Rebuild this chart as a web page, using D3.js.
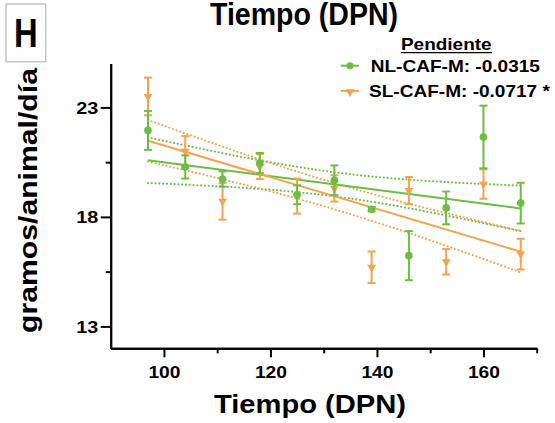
<!DOCTYPE html>
<html>
<head>
<meta charset="utf-8">
<script src="https://cdn.jsdelivr.net/npm/d3@7"></script>
<style>
  body { margin: 0; background: #fff; }
  text { font-family: "Liberation Sans", Arial, sans-serif; font-weight: bold; fill: #000; }
</style>
</head>
<body>
<div id="chart"></div>
<script>
// data (means and SEM per day)
var days = [97, 104, 111, 118, 125, 132, 139, 146, 153, 160, 167];
var nlMean = [21.95, 20.28, 19.73, 20.46, 19.01, 19.67, 18.35, 16.23, 18.41, 21.65, 18.63];
var nlSem  = [0.89, 0.53, 0.35, 0.46, 0.43, 0.68, 0.10, 1.12, 0.75, 1.43, 0.93];
var slMean = [23.50, 20.99, 18.71, 20.30, 18.95, 19.30, 15.70, 19.20, 15.95, 19.50, 16.30];
var slSem  = [0.86, 0.70, 0.84, 0.57, 0.80, 0.60, 0.72, 0.62, 0.58, 0.67, 0.70];
// 95% band half width at the centre and at the ends of the fit
var bandMid = [0.55, 0.60];
var bandEnd = [1.04, 0.95];
var seriesNames = ["NL-CAF-M: -0.0315", "SL-CAF-M: -0.0717 *"];
var colors = ["#6cbd45", "#f7a24c"];
var xMajor = [100, 120, 140, 160];
var xMinor = [110, 130, 150, 170];
var yMajor = [13, 18, 23];
var yMinor = [15.5, 20.5];

var width = 555, height = 423, stretch = 1.13;

var svg = d3.select('#chart')
    .append('svg')
    .attr('width', width)
    .attr('height', height);

var xscale = d3.scaleLinear().domain([90, 170]).range([110.7, 536.7]);
var yscale = d3.scaleLinear().domain([12, 25]).range([348.3, 63.6]);

// widen text a little, the source font runs wider than Liberation Sans
function widen(sel, k) {
    sel.each(function() {
        var w = this.getComputedTextLength();
        d3.select(this).attr('textLength', w * (k || stretch)).attr('lengthAdjust', 'spacingAndGlyphs');
    });
}

// axes
var xAxis = svg.append('g')
    .attr('transform', 'translate(0,348.3)')
    .call(d3.axisBottom(xscale).tickValues(xMajor).tickSize(9).tickSizeOuter(0).tickPadding(8.5));
svg.append('g')
    .attr('transform', 'translate(0,348.3)')
    .call(d3.axisBottom(xscale).tickValues(xMinor).tickSize(5).tickSizeOuter(0).tickFormat(''));
var yAxis = svg.append('g')
    .attr('transform', 'translate(110.7,0)')
    .call(d3.axisLeft(yscale).tickValues(yMajor).tickSize(10).tickSizeOuter(0).tickPadding(2.5));
svg.append('g')
    .attr('transform', 'translate(110.7,0)')
    .call(d3.axisLeft(yscale).tickValues(yMinor).tickSize(5).tickSizeOuter(0).tickFormat(''));

svg.selectAll('.domain, .tick line').attr('stroke', '#000').attr('stroke-width', 2);
svg.selectAll('.tick text')
    .style('font-family', '"Liberation Sans", Arial, sans-serif')
    .style('font-weight', 'bold')
    .attr('fill', '#000');
xAxis.selectAll('.tick text').style('font-size', '17px').call(widen);
yAxis.selectAll('.tick text').style('font-size', '16.5px').attr('dy', '0.36em').call(widen, 1.2);

// regression from the means, then band and points
function fit(ys) {
    var mx = d3.mean(days), my = d3.mean(ys);
    var sxy = d3.sum(days, function(d, i) { return (d - mx) * (ys[i] - my); });
    var sxx = d3.sum(days, function(d) { return (d - mx) * (d - mx); });
    var b = sxy / sxx;
    return { mx: mx, a: my - b * mx, b: b, half: (days[days.length - 1] - days[0]) / 2 };
}

var series = [
    { mean: nlMean, sem: nlSem, color: colors[0], shape: 'circle' },
    { mean: slMean, sem: slSem, color: colors[1], shape: 'tri' }
];

var line = d3.line().x(function(d) { return xscale(d[0]); }).y(function(d) { return yscale(d[1]); });
var xs = d3.range(days[0], days[days.length - 1] + 0.5, 1);

series.forEach(function(s, i) {
    var f = fit(s.mean);
    function hw(x) {
        var t = (x - f.mx) / f.half;
        return Math.sqrt(bandMid[i] * bandMid[i] + (bandEnd[i] * bandEnd[i] - bandMid[i] * bandMid[i]) * t * t);
    }
    [1, -1].forEach(function(sign) {
        svg.append('path')
            .datum(xs.map(function(x) { return [x, f.a + f.b * x + sign * hw(x)]; }))
            .attr('d', line)
            .attr('fill', 'none')
            .attr('stroke', s.color)
            .attr('stroke-width', 2.2)
            .attr('stroke-linecap', 'round')
            .attr('stroke-dasharray', '0,3.8');
    });
    s.fitLine = [[days[0], f.a + f.b * days[0]], [days[days.length - 1], f.a + f.b * days[days.length - 1]]];
});

series.forEach(function(s) {
    svg.append('path')
        .datum(s.fitLine)
        .attr('d', line)
        .attr('fill', 'none')
        .attr('stroke', s.color)
        .attr('stroke-width', 2);
});

var tri = d3.symbol().type(d3.symbolTriangle).size(34);

// orange under green
[series[1], series[0]].forEach(function(s) {
    var g = svg.append('g');
    var pts = days.map(function(d, i) { return { x: d, m: s.mean[i], e: s.sem[i] }; });
    var eb = g.selectAll('g.eb').data(pts).enter().append('g')
        .attr('stroke', s.color).attr('stroke-width', 2);
    eb.append('line')
        .attr('x1', function(d) { return xscale(d.x); })
        .attr('x2', function(d) { return xscale(d.x); })
        .attr('y1', function(d) { return yscale(d.m + d.e); })
        .attr('y2', function(d) { return yscale(d.m - d.e); });
    [1, -1].forEach(function(sign) {
        eb.append('line')
            .attr('x1', function(d) { return xscale(d.x) - 4; })
            .attr('x2', function(d) { return xscale(d.x) + 4; })
            .attr('y1', function(d) { return yscale(d.m + sign * d.e); })
            .attr('y2', function(d) { return yscale(d.m + sign * d.e); });
    });
    if (s.shape === 'circle') {
        g.selectAll('circle').data(pts).enter().append('circle')
            .attr('cx', function(d) { return xscale(d.x); })
            .attr('cy', function(d) { return yscale(d.m); })
            .attr('r', 3.8)
            .attr('fill', s.color);
    } else {
        g.selectAll('path.t').data(pts).enter().append('path')
            .attr('d', tri)
            .attr('transform', function(d) { return 'translate(' + xscale(d.x) + ',' + yscale(d.m) + ') rotate(180)'; })
            .attr('fill', s.color);
    }
});

// legend
svg.append('text')
    .attr('x', 446.3).attr('y', 50)
    .attr('text-anchor', 'middle')
    .style('font-size', '16.5px')
    .text('Pendiente').call(widen, 1.15);
svg.append('line')
    .attr('x1', 401).attr('x2', 492).attr('y1', 52.6).attr('y2', 52.6)
    .attr('stroke', '#000').attr('stroke-width', 1.4);

var legendY = [65.7, 90.8];
series.forEach(function(s, i) {
    var ly = legendY[i];
    svg.append('line')
        .attr('x1', 340.7).attr('x2', 359).attr('y1', ly).attr('y2', ly)
        .attr('stroke', s.color).attr('stroke-width', 2);
    if (s.shape === 'circle') {
        svg.append('circle').attr('cx', 350).attr('cy', ly).attr('r', 3.5).attr('fill', s.color);
    } else {
        svg.append('path').attr('d', tri)
            .attr('transform', 'translate(350,' + (ly + 1) + ') rotate(180)')
            .attr('fill', s.color);
    }
    svg.append('text')
        .attr('x', i === 0 ? 370.7 : 369).attr('y', ly + 6.2)
        .style('font-size', '17px')
        .text(seriesNames[i]).call(widen, 1.12);
});

// titles
svg.append('text')
    .attr('x', 304).attr('y', 25)
    .attr('text-anchor', 'middle')
    .style('font-size', '31px')
    .text('Tiempo (DPN)')
    .attr('textLength', 188).attr('lengthAdjust', 'spacingAndGlyphs');

svg.append('text')
    .attr('x', 310).attr('y', 413)
    .attr('text-anchor', 'middle')
    .style('font-size', '26.5px')
    .text('Tiempo (DPN)').call(widen, 1.1);

svg.append('text')
    .attr('transform', 'translate(37,200.5) rotate(-90)')
    .attr('text-anchor', 'middle')
    .style('font-size', '26px')
    .text('gramos/animal/día').call(widen, 1.16);

// panel letter
svg.append('rect')
    .attr('x', 6).attr('y', 4).attr('width', 39.7).attr('height', 57.7)
    .attr('fill', '#fff').attr('stroke', '#c4c4c4').attr('stroke-width', 1.5);
svg.append('text')
    .attr('x', 25.8).attr('y', 46.8)
    .attr('text-anchor', 'middle')
    .style('font-size', '41px')
    .text('H').call(widen, 0.8);
</script>
</body>
</html>
